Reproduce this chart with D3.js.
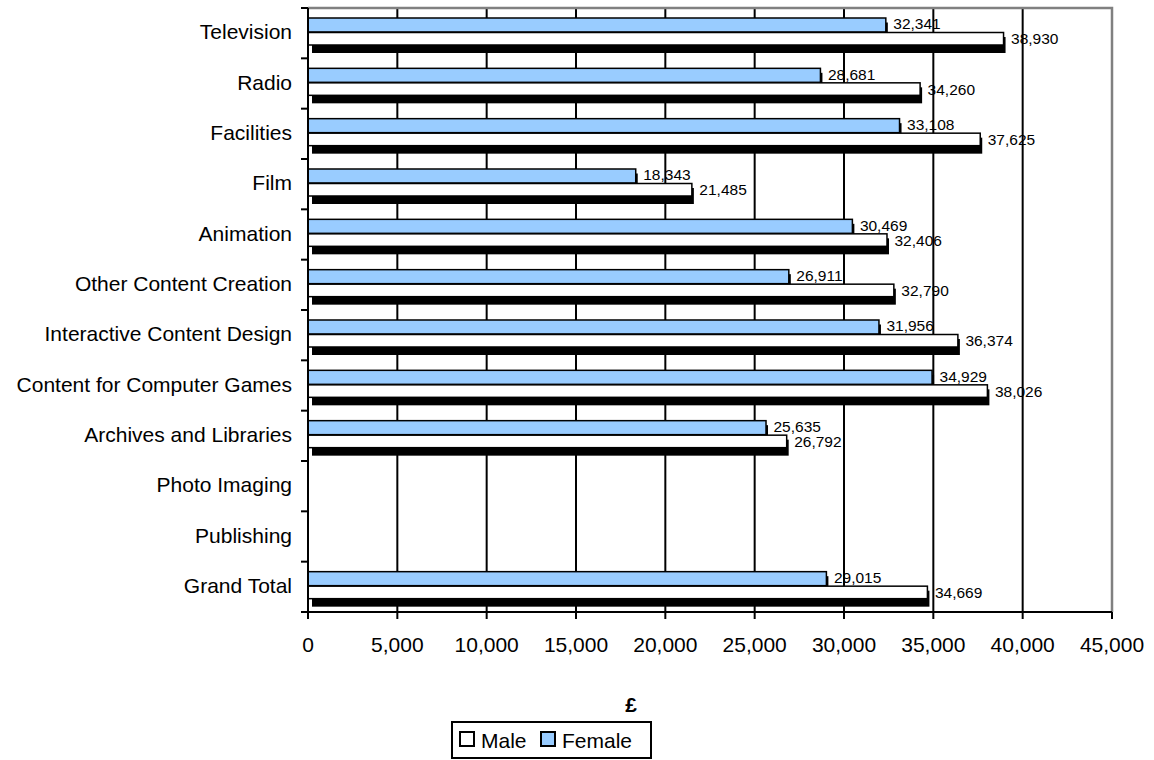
<!DOCTYPE html>
<html>
<head>
<meta charset="utf-8">
<script src="https://cdn.jsdelivr.net/npm/d3@7"></script>
<style>
  html, body { margin: 0; padding: 0; background: #fff; }
  svg { display: block; font-family: "Liberation Sans", Arial, sans-serif; }
</style>
</head>
<body>
<svg id="chart" width="1154" height="760"></svg>
<script>
const categories = ["Television", "Radio", "Facilities", "Film", "Animation",
  "Other Content Creation", "Interactive Content Design", "Content for Computer Games",
  "Archives and Libraries", "Photo Imaging", "Publishing", "Grand Total"];
const femaleValues = [32341, 28681, 33108, 18343, 30469, 26911, 31956, 34929, 25635, null, null, 29015];
const maleValues   = [38930, 34260, 37625, 21485, 32406, 32790, 36374, 38026, 26792, null, null, 34669];
const xTicks = [0, 5000, 10000, 15000, 20000, 25000, 30000, 35000, 40000, 45000];
const seriesNames = ["Male", "Female"];
const axisTitle = "£";

(function () {
const svg = d3.select("#chart");
const pLeft = 308, pRight = 1112, pTop = 8, pBottom = 612;
const x = d3.scaleLinear().domain([0, 45000]).range([pLeft, pRight]);
const y = d3.scaleBand().domain(categories).range([pTop, pBottom]).padding(0);
const fmt = d3.format(",");

// gridlines
svg.append("g").selectAll("line").data(xTicks.filter(t => t > 0 && t < 45000)).join("line")
  .attr("x1", d => x(d)).attr("x2", d => x(d)).attr("y1", pTop).attr("y2", pBottom)
  .attr("stroke", "#000").attr("stroke-width", 2);

// plot border top/right (gray)
svg.append("path")
  .attr("d", `M${pLeft},${pTop}H${pRight}V${pBottom}`)
  .attr("fill", "none").attr("stroke", "#808080").attr("stroke-width", 2.5);

// bars
const rows = categories.map((c, i) => ({ c, f: femaleValues[i], m: maleValues[i] }));
const g = svg.append("g");
const fY = 10, fH = 14, mY = 24.5, mH = 12.5;
rows.forEach(r => {
  const t = y(r.c);
  if (r.f != null) {
    g.append("rect").attr("x", x(0) + 4).attr("y", t + fY + 4.5)
      .attr("width", x(r.f) - x(0) - 2).attr("height", fH + 3).attr("fill", "#000");
    g.append("rect").attr("x", x(0)).attr("y", t + fY)
      .attr("width", x(r.f) - x(0)).attr("height", fH)
      .attr("fill", "#99ccff").attr("stroke", "#000").attr("stroke-width", 1.5);
  }
  if (r.m != null) {
    g.append("rect").attr("x", x(0) + 4).attr("y", t + mY + 4.5)
      .attr("width", x(r.m) - x(0) - 2).attr("height", mH + 3.5).attr("fill", "#000");
    g.append("rect").attr("x", x(0)).attr("y", t + mY)
      .attr("width", x(r.m) - x(0)).attr("height", mH)
      .attr("fill", "#fff").attr("stroke", "#000").attr("stroke-width", 1.5);
  }
});

// data labels
rows.forEach(r => {
  const t = y(r.c);
  if (r.f != null) {
    svg.append("text").attr("x", x(r.f) + 7.5).attr("y", t + 21.3)
      .attr("font-size", "15.5px").attr("fill", "#000").text(fmt(r.f));
  }
  if (r.m != null) {
    svg.append("text").attr("x", x(r.m) + 7.5).attr("y", t + 36.3)
      .attr("font-size", "15.5px").attr("fill", "#000").text(fmt(r.m));
  }
});

// y axis
svg.append("line").attr("x1", pLeft).attr("x2", pLeft).attr("y1", pTop).attr("y2", pBottom + 7)
  .attr("stroke", "#000").attr("stroke-width", 2);
const bounds = categories.map(c => y(c)).concat([pBottom]);
svg.append("g").selectAll("line").data(bounds).join("line")
  .attr("x1", pLeft - 7).attr("x2", pLeft).attr("y1", d => d).attr("y2", d => d)
  .attr("stroke", "#000").attr("stroke-width", 2);
svg.append("g").selectAll("text").data(categories).join("text")
  .attr("x", 292).attr("y", d => y(d) + y.bandwidth() / 2 + 6)
  .attr("text-anchor", "end").attr("font-size", "21px").attr("fill", "#000")
  .text(d => d);

// x axis
svg.append("line").attr("x1", pLeft - 7).attr("x2", pRight).attr("y1", pBottom).attr("y2", pBottom)
  .attr("stroke", "#000").attr("stroke-width", 2);
svg.append("g").selectAll("line").data(xTicks).join("line")
  .attr("x1", d => x(d)).attr("x2", d => x(d)).attr("y1", pBottom).attr("y2", pBottom + 7)
  .attr("stroke", "#000").attr("stroke-width", 2);
svg.append("g").selectAll("text").data(xTicks).join("text")
  .attr("x", d => x(d)).attr("y", 652)
  .attr("text-anchor", "middle").attr("font-size", "21px").attr("fill", "#000")
  .text(d => fmt(d));

svg.append("text").attr("x", 631).attr("y", 712).attr("text-anchor", "middle")
  .attr("font-size", "21px").attr("font-weight", "bold").text(axisTitle);

// legend
const lg = svg.append("g");
lg.append("rect").attr("x", 452).attr("y", 722).attr("width", 199).attr("height", 36)
  .attr("fill", "#fff").attr("stroke", "#000").attr("stroke-width", 2);
const legendItems = [
  { name: seriesNames[0], fill: "#fff", sx: 460, tx: 481 },
  { name: seriesNames[1], fill: "#99ccff", sx: 541, tx: 562 }
];
legendItems.forEach(it => {
  lg.append("rect").attr("x", it.sx).attr("y", 732).attr("width", 14).attr("height", 14)
    .attr("fill", it.fill).attr("stroke", "#000").attr("stroke-width", 2);
  lg.append("text").attr("x", it.tx).attr("y", 748).attr("font-size", "21px").text(it.name);
});
})();
</script>
</body>
</html>
